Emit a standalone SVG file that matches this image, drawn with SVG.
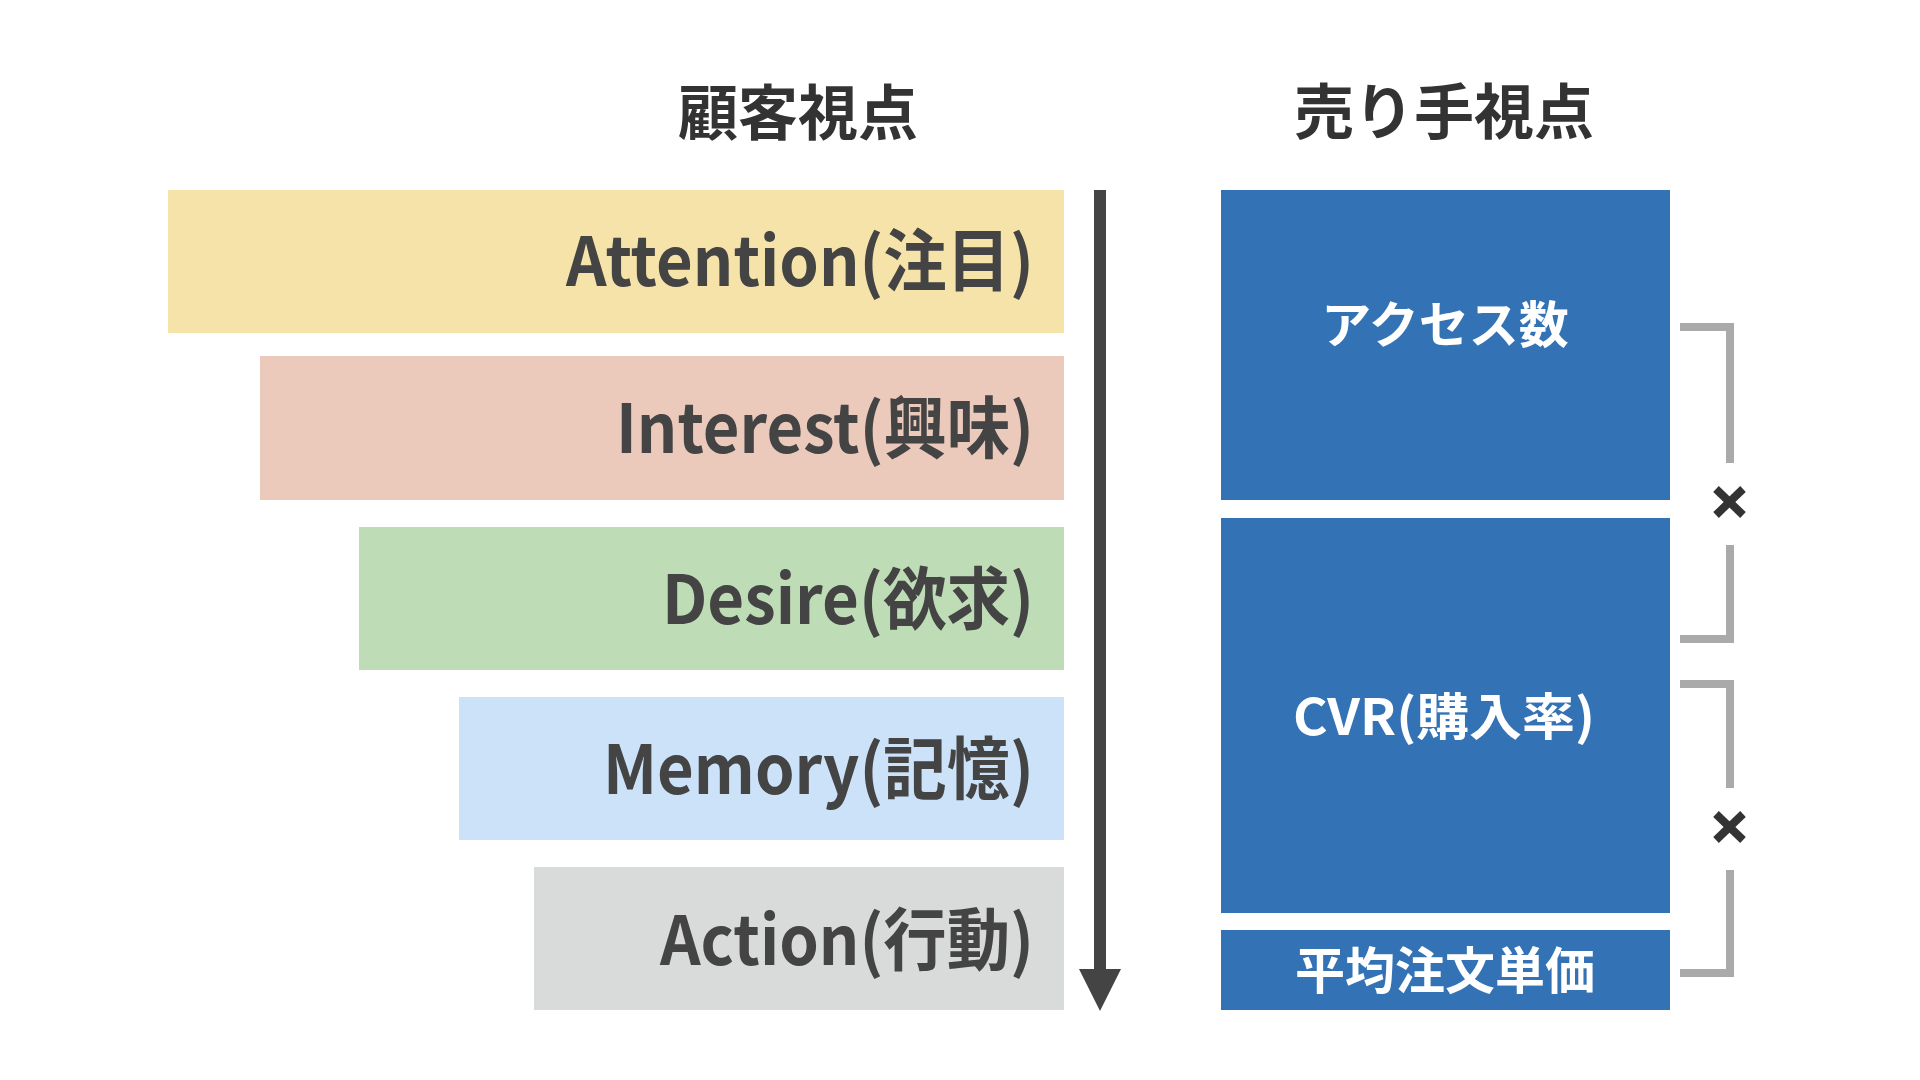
<svg xmlns="http://www.w3.org/2000/svg" width="1920" height="1080" viewBox="0 0 1920 1080">
<style>
.t{font-family:"Noto Sans CJK JP","Noto Sans",sans-serif;font-weight:700}
.title{font-size:60px;fill:#333333;text-anchor:middle}
.lbl{font-size:68px;fill:#444444;text-anchor:end}
.wl{font-size:50px;fill:#ffffff;text-anchor:middle}
.blue{fill:#3373B5}
.br{fill:none;stroke:#AAAAAA;stroke-width:8;stroke-linejoin:miter}
.x{stroke:#333333;stroke-width:8;stroke-linecap:butt}
</style>
<rect width="1920" height="1080" fill="#ffffff"/>
<g id="titles">
<text class="t title" x="798" y="135">顧客視点</text>
<text class="t title" x="1444" y="134">売り手視点</text>
</g>
<g id="attention"><rect x="168" y="190" width="896" height="143" fill="#F6E3A9"/><text class="t lbl" x="1034" y="286" textLength="468" lengthAdjust="spacingAndGlyphs">Attention(注目)</text></g>
<g id="interest"><rect x="260" y="356" width="804" height="144" fill="#EBCABB"/><text class="t lbl" x="1034" y="453" textLength="418" lengthAdjust="spacingAndGlyphs">Interest(興味)</text></g>
<g id="desire"><rect x="359" y="527" width="705" height="143" fill="#BEDDB7"/><text class="t lbl" x="1034" y="624" textLength="372" lengthAdjust="spacingAndGlyphs">Desire(欲求)</text></g>
<g id="memory"><rect x="459" y="697" width="605" height="143" fill="#CCE2F8"/><text class="t lbl" x="1034" y="794" textLength="431" lengthAdjust="spacingAndGlyphs">Memory(記憶)</text></g>
<g id="action"><rect x="534" y="867" width="530" height="143" fill="#D9DBDA"/><text class="t lbl" x="1034" y="965" textLength="374" lengthAdjust="spacingAndGlyphs">Action(行動)</text></g>
<g id="access"><rect class="blue" x="1221" y="190" width="449" height="310"/><text class="t wl" x="1445" y="343">アクセス数</text></g>
<g id="cvr"><rect class="blue" x="1221" y="518" width="449" height="395"/><text class="t wl" x="1444" y="735" textLength="302" lengthAdjust="spacingAndGlyphs">CVR(購入率)</text></g>
<g id="aov"><rect class="blue" x="1221" y="930" width="449" height="80"/><text class="t wl" x="1445" y="989">平均注文単価</text></g>
<g id="connectors">
<line x1="1100" y1="190" x2="1100" y2="972" stroke="#444444" stroke-width="12"/>
<polygon points="1079,969 1121,969 1100,1011" fill="#444444"/>
<path class="br" d="M1680 327 H1730 V463"/>
<path class="br" d="M1730 545 V639 H1680"/>
<path class="br" d="M1680 684 H1730 V788"/>
<path class="br" d="M1730 870 V973 H1680"/>
<g class="x"><line x1="1716" y1="489" x2="1743" y2="515"/><line x1="1743" y1="489" x2="1716" y2="515"/></g>
<g class="x"><line x1="1716" y1="814" x2="1743" y2="840"/><line x1="1743" y1="814" x2="1716" y2="840"/></g>
</g>
</svg>
